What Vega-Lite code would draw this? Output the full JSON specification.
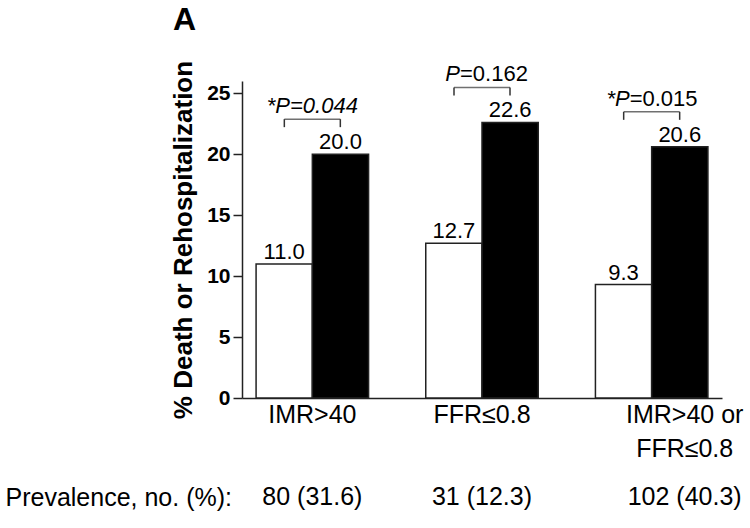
{
  "$schema": "https://vega.github.io/schema/vega-lite/v6.json",
  "width": 480,
  "height": 317,
  "autosize": {"type": "none"},
  "padding": {"left": 242, "top": 81, "right": 28, "bottom": 130},
  "background": "white",
  "config": {"view": {"stroke": null}, "font": "Liberation Sans"},
  "title": {"text": "A", "anchor": "start", "frame": "group", "dx": -69, "dy": -23, "fontSize": 32, "fontWeight": "bold", "font": "Liberation Sans", "color": "black", "baseline": "top", "offset": 0},
  "datasets": {
    "bars": [
      {"group": "IMR>40", "status": "absent", "rate": 11.0},
      {"group": "IMR>40", "status": "present", "rate": 20.0},
      {"group": "FFR≤0.8", "status": "absent", "rate": 12.7},
      {"group": "FFR≤0.8", "status": "present", "rate": 22.6},
      {"group": "IMR>40 or FFR≤0.8", "status": "absent", "rate": 9.3},
      {"group": "IMR>40 or FFR≤0.8", "status": "present", "rate": 20.6}
    ],
    "groups": [
      {"group": "IMR>40", "label": "IMR>40", "prevalence": "80 (31.6)", "black": 20.0, "p_full": "*P=0.044", "p_pre": "", "p_post": ""},
      {"group": "FFR≤0.8", "label": "FFR≤0.8", "prevalence": "31 (12.3)", "black": 22.6, "p_full": "", "p_pre": "P", "p_post": "=0.162"},
      {"group": "IMR>40 or FFR≤0.8", "label": "IMR>40 or\nFFR≤0.8", "prevalence": "102 (40.3)", "black": 20.6, "p_full": "", "p_pre": "*P", "p_post": "=0.015"}
    ]
  },
  "encoding": {
    "x": {
      "field": "group",
      "type": "nominal",
      "scale": {"domain": ["IMR>40", "FFR≤0.8", "IMR>40 or FFR≤0.8"], "paddingInner": 0.337, "paddingOuter": 0.083},
      "axis": {
        "title": "Prevalence, no. (%):",
        "labels": false,
        "ticks": false,
        "domainColor": "#222",
        "domainWidth": 1.5,
        "titleX": -237,
        "titleY": 107,
        "titleAlign": "left",
        "titleAnchor": "start",
        "titleBaseline": "alphabetic",
        "titleFontSize": 25,
        "titleFontWeight": "normal",
        "titleFont": "Liberation Sans",
        "titleColor": "black"
      }
    }
  },
  "layer": [
    {
      "data": {"name": "bars"},
      "mark": {"type": "bar", "stroke": "#222", "strokeWidth": 1.5},
      "encoding": {
        "xOffset": {"field": "status", "type": "nominal", "scale": {"domain": ["absent", "present"], "paddingInner": 0, "paddingOuter": 0}},
        "y": {
          "field": "rate",
          "type": "quantitative",
          "title": "% Death or Rehospitalization",
          "scale": {"domain": [0, 25]},
          "axis": {
            "values": [0, 5, 10, 15, 20, 25],
            "grid": false,
            "titleFontSize": 26,
            "titleFontWeight": "bold",
            "titleFont": "Liberation Sans",
            "titleColor": "black",
            "titlePadding": 10,
            "labelFontSize": 21,
            "labelFontWeight": "bold",
            "labelFont": "Liberation Sans",
            "labelColor": "black",
            "labelPadding": 3,
            "tickSize": 9,
            "tickColor": "#222",
            "tickWidth": 1.5,
            "domainColor": "#222",
            "domainWidth": 1.5
          }
        },
        "fill": {"field": "status", "type": "nominal", "scale": {"domain": ["absent", "present"], "range": ["white", "black"]}, "legend": null}
      }
    },
    {
      "data": {"name": "bars"},
      "mark": {"type": "text", "dy": -5, "baseline": "alphabetic", "fontSize": 22, "font": "Liberation Sans", "color": "black"},
      "encoding": {
        "xOffset": {"field": "status", "type": "nominal"},
        "y": {"field": "rate", "type": "quantitative", "title": "% Death or Rehospitalization"},
        "text": {"field": "rate", "type": "quantitative", "format": ".1f"}
      }
    },
    {
      "data": {"name": "groups"},
      "transform": [{"filter": "datum.p_full != ''"}],
      "mark": {"type": "text", "dy": -41, "baseline": "alphabetic", "align": "center", "fontStyle": "italic", "fontSize": 22, "font": "Liberation Sans", "color": "black"},
      "encoding": {
        "y": {"field": "black", "type": "quantitative", "title": "% Death or Rehospitalization"},
        "text": {"field": "p_full"}
      }
    },
    {
      "data": {"name": "groups"},
      "transform": [{"filter": "datum.p_pre != ''"}],
      "mark": {"type": "text", "dy": -41, "dx": -22, "baseline": "alphabetic", "align": "right", "fontStyle": "italic", "fontSize": 22, "font": "Liberation Sans", "color": "black"},
      "encoding": {
        "y": {"field": "black", "type": "quantitative", "title": "% Death or Rehospitalization"},
        "text": {"field": "p_pre"}
      }
    },
    {
      "data": {"name": "groups"},
      "transform": [{"filter": "datum.p_post != ''"}],
      "mark": {"type": "text", "dy": -41, "dx": -22, "baseline": "alphabetic", "align": "left", "fontSize": 22, "font": "Liberation Sans", "color": "black"},
      "encoding": {
        "y": {"field": "black", "type": "quantitative", "title": "% Death or Rehospitalization"},
        "text": {"field": "p_post"}
      }
    },
    {
      "data": {"name": "groups"},
      "mark": {"type": "tick", "orient": "horizontal", "size": 56, "thickness": 1.5, "color": "#333", "yOffset": -35},
      "encoding": {
        "y": {"field": "black", "type": "quantitative", "title": "% Death or Rehospitalization"}
      }
    },
    {
      "data": {"name": "groups"},
      "mark": {"type": "rule", "xOffset": -28, "yOffset": -35, "y2Offset": -27, "color": "#333", "strokeWidth": 1.5},
      "encoding": {
        "y": {"field": "black", "type": "quantitative", "title": "% Death or Rehospitalization"},
        "y2": {"field": "black"}
      }
    },
    {
      "data": {"name": "groups"},
      "mark": {"type": "rule", "xOffset": 28, "yOffset": -35, "y2Offset": -27, "color": "#333", "strokeWidth": 1.5},
      "encoding": {
        "y": {"field": "black", "type": "quantitative", "title": "% Death or Rehospitalization"},
        "y2": {"field": "black"}
      }
    },
    {
      "data": {"name": "groups"},
      "transform": [{"filter": "datum.group != 'IMR>40 or FFR≤0.8'"}],
      "mark": {"type": "text", "dy": 25, "baseline": "alphabetic", "align": "center", "fontSize": 25, "font": "Liberation Sans", "color": "black"},
      "encoding": {
        "y": {"datum": 0, "type": "quantitative"},
        "text": {"field": "label"}
      }
    },
    {
      "data": {"name": "groups"},
      "transform": [{"filter": "datum.group == 'IMR>40 or FFR≤0.8'"}],
      "mark": {"type": "text", "dy": 25, "dx": 33, "baseline": "alphabetic", "align": "center", "lineBreak": "\n", "lineHeight": 34, "fontSize": 25, "font": "Liberation Sans", "color": "black"},
      "encoding": {
        "y": {"datum": 0, "type": "quantitative"},
        "text": {"field": "label"}
      }
    },
    {
      "data": {"name": "groups"},
      "transform": [{"filter": "datum.group != 'IMR>40 or FFR≤0.8'"}],
      "mark": {"type": "text", "dy": 107, "baseline": "alphabetic", "align": "center", "fontSize": 25, "font": "Liberation Sans", "color": "black"},
      "encoding": {
        "y": {"datum": 0, "type": "quantitative"},
        "text": {"field": "prevalence"}
      }
    },
    {
      "data": {"name": "groups"},
      "transform": [{"filter": "datum.group == 'IMR>40 or FFR≤0.8'"}],
      "mark": {"type": "text", "dy": 107, "dx": 33, "baseline": "alphabetic", "align": "center", "fontSize": 25, "font": "Liberation Sans", "color": "black"},
      "encoding": {
        "y": {"datum": 0, "type": "quantitative"},
        "text": {"field": "prevalence"}
      }
    }
  ]
}
